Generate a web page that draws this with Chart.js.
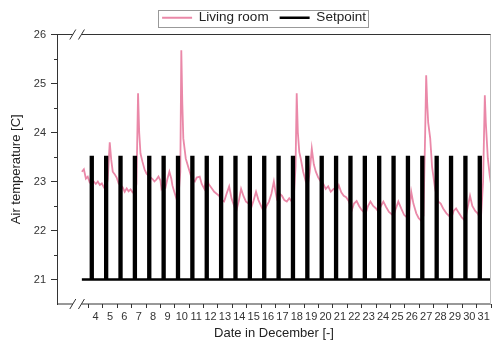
<!DOCTYPE html>
<html>
<head>
<meta charset="utf-8">
<title>Living room temperature</title>
<script src="https://cdn.jsdelivr.net/npm/chart.js@4.4.1/dist/chart.umd.min.js"></script>
<style>
  html, body { margin: 0; padding: 0; background: #fff; }
  #wrap { width: 493px; height: 347px; position: relative; }
</style>
</head>
<body>
<div id="wrap"><canvas id="chart"></canvas></div>
<script>
// Living room air temperature (x = day of December, fractional)
const roomDays = [
    3.53, 3.67, 3.81, 3.94, 4.08, 4.22, 4.36, 4.5, 4.64, 4.78, 4.92, 5.06, 5.2, 5.33, 5.47, 5.57, 5.68, 5.81, 5.95,
    6.09, 6.23, 6.37, 6.51, 6.65, 6.78, 6.92, 7.06, 7.2, 7.33, 7.44, 7.52, 7.61, 7.75, 7.89,
    8.03, 8.17, 8.31, 8.45, 8.58, 8.72, 8.86, 9.0, 9.07, 9.21, 9.35, 9.48, 9.62, 9.76, 9.83, 9.97,
    10.11, 10.25, 10.38, 10.45, 10.52, 10.59, 10.76, 10.97, 11.18, 11.39, 11.52, 11.73, 11.87,
    12.05, 12.2, 12.35, 12.74, 13.08, 13.22, 13.43, 13.6, 13.78, 13.95, 14.12, 14.26, 14.45, 14.61, 14.78, 14.95,
    15.13, 15.3, 15.47, 15.65, 15.82, 15.99, 16.2, 16.38, 16.55, 16.72, 16.89, 17.0, 17.1, 17.28, 17.45, 17.62, 17.79, 17.96,
    18.14, 18.28, 18.4, 18.48, 18.56, 18.66, 18.76, 18.93, 19.11, 19.25, 19.39, 19.53, 19.67, 19.81, 19.98,
    20.15, 20.32, 20.5, 20.67, 20.85, 21.05, 21.26, 21.41, 21.58, 21.75, 21.92,
    22.1, 22.23, 22.3, 22.47, 22.65, 22.82, 23.0, 23.27, 23.44, 23.61, 23.8, 24.0, 24.17, 24.34, 24.51, 24.7, 24.9,
    25.21, 25.38, 25.55, 25.75, 25.95, 26.24, 26.35, 26.45, 26.6, 26.8, 26.97, 27.14, 27.3, 27.42, 27.49, 27.56, 27.63, 27.77, 27.9,
    28.11, 28.32, 28.5, 28.67, 28.9, 29.08, 29.22, 29.4, 29.57, 29.78, 29.98, 30.19, 30.36, 30.54, 30.7, 30.9,
    31.1, 31.29, 31.45, 31.57, 31.64, 31.78, 31.92, 32.0
];
const roomTemps = [
    23.2, 23.25, 23.06, 23.1, 22.98, 22.96, 23.0, 22.95, 23.0, 22.93, 22.96, 22.88, 22.82, 23.05, 23.8, 23.45, 23.2, 23.15, 23.08,
    22.96, 22.92, 22.88, 22.79, 22.86, 22.8, 22.84, 22.78, 22.75, 22.95, 24.8, 24.0, 23.57, 23.4, 23.25,
    23.16, 23.12, 23.08, 23.05, 23.0, 23.04, 23.1, 23.02, 22.85, 22.92, 22.88, 23.05, 23.2, 23.05, 22.92, 22.78,
    22.65, 22.68, 23.2, 25.68, 24.6, 23.88, 23.47, 23.26, 23.06, 23.0, 23.08, 23.1, 22.95,
    22.85, 23.1, 22.95, 22.79, 22.71, 22.62, 22.59, 22.75, 22.9, 22.65, 22.51, 22.38, 22.6, 22.85, 22.7, 22.59,
    22.55, 22.45, 22.6, 22.79, 22.62, 22.51, 22.38, 22.5, 22.59, 22.75, 23.0, 22.8, 22.65, 22.75, 22.71, 22.62, 22.59, 22.66,
    22.59, 22.7, 23.3, 24.8, 24.0, 23.6, 23.47, 23.2, 23.0, 22.92, 23.2, 23.67, 23.35, 23.2, 23.08,
    23.0, 22.96, 22.85, 22.9, 22.79, 22.85, 22.81, 22.92, 22.78, 22.71, 22.68,
    22.6, 22.5, 22.4, 22.55, 22.6, 22.5, 22.42, 22.34, 22.5, 22.59, 22.5, 22.45, 22.38, 22.5, 22.59, 22.48, 22.38,
    22.3, 22.45, 22.59, 22.45, 22.32, 22.24, 22.5, 22.79, 22.55, 22.35, 22.25, 22.2, 22.3, 24.0, 25.17, 24.6, 24.2, 23.88, 23.3,
    22.85, 22.59, 22.55, 22.45, 22.35, 22.3, 22.24, 22.4, 22.45, 22.35, 22.26, 22.2, 22.45, 22.71, 22.5, 22.4,
    22.34, 22.2, 23.0, 24.76, 24.2, 23.47, 23.1, 22.95
];

// Heating setpoint: base level with one short high pulse each day
const setpointStart = 3.53;
const setpointEnd = 32;
const setpointLow = 21;
const setpointHigh = 23.5;
const pulseOn = [
    4.16, 5.16, 6.16, 7.16, 8.16, 9.16, 10.16, 11.16, 12.16, 13.16, 14.16, 15.16, 16.16, 17.16,
    18.16, 19.16, 20.16, 21.16, 22.16, 23.16, 24.16, 25.16, 26.16, 27.16, 28.16, 29.16, 30.16, 31.16
];
const pulseOff = [
    4.28, 5.28, 6.28, 7.28, 8.28, 9.28, 10.28, 11.28, 12.28, 13.28, 14.28, 15.28, 16.28, 17.28,
    18.28, 19.28, 20.28, 21.28, 22.28, 23.28, 24.28, 25.28, 26.28, 27.28, 28.28, 29.28, 30.28, 31.28
];

// Axes
const dayTicks = [4, 5, 6, 7, 8, 9, 10, 11, 12, 13, 14, 15, 16, 17, 18, 19, 20, 21, 22, 23, 24, 25, 26, 27, 28, 29, 30, 31, 32];
const dayLabels = ['4', '5', '6', '7', '8', '9', '10', '11', '12', '13', '14', '15', '16', '17', '18', '19', '20',
    '21', '22', '23', '24', '25', '26', '27', '28', '29', '30', '31'];
const tempTicks = [21, 22, 23, 24, 25, 26];
const tempMinorTicks = [21.5, 22.5, 23.5, 24.5, 25.5];
const xMin = 1.8;
const xMax = 32;
const yMin = 20.5;
const yMax = 26;
const axisBreak = [2.9, 3.5];
const legendNudge = 18;

const roomData = roomDays.map((d, i) => ({ x: d, y: roomTemps[i] }));

const setpointData = [{ x: setpointStart, y: setpointLow }];
pulseOn.forEach((on, i) => {
    setpointData.push({ x: on, y: setpointLow });
    setpointData.push({ x: on, y: setpointHigh });
    setpointData.push({ x: pulseOff[i], y: setpointHigh });
    setpointData.push({ x: pulseOff[i], y: setpointLow });
});
setpointData.push({ x: setpointEnd, y: setpointLow });

Chart.defaults.font.family = '"Liberation Sans", Arial, sans-serif';
Chart.defaults.color = '#333';

// Frame with axis break marks, minor ticks and a border around the legend
const framePlugin = {
    id: 'frame',
    afterLayout(chart) {
        chart.legend.left += legendNudge;
        chart.legend.right += legendNudge;
    },
    afterDraw(chart) {
        const { ctx, chartArea, scales } = chart;
        const { left, right, top, bottom } = chartArea;
        const b0 = scales.x.getPixelForValue(axisBreak[0]);
        const b1 = scales.x.getPixelForValue(axisBreak[1]);
        ctx.save();
        ctx.strokeStyle = '#333';
        ctx.lineWidth = 1;
        [top, bottom].forEach(yy => {
            ctx.beginPath();
            ctx.moveTo(left, yy);
            ctx.lineTo(b0, yy);
            ctx.moveTo(b1, yy);
            ctx.lineTo(right, yy);
            ctx.moveTo(b0 - 3, yy + 5);
            ctx.lineTo(b0 + 3, yy - 5);
            ctx.moveTo(b1 - 3, yy + 5);
            ctx.lineTo(b1 + 3, yy - 5);
            ctx.stroke();
        });

        // minor ticks on the temperature axis
        ctx.beginPath();
        tempMinorTicks.forEach(v => {
            const py = Math.round(scales.y.getPixelForValue(v)) + 0.5;
            ctx.moveTo(left - 3, py);
            ctx.lineTo(left, py);
        });
        ctx.stroke();

        // right edge
        ctx.strokeStyle = '#bbb';
        ctx.beginPath();
        ctx.moveTo(right - 0.5, top);
        ctx.lineTo(right - 0.5, bottom);
        ctx.stroke();

        // legend box
        const boxes = chart.legend.legendHitBoxes;
        if (boxes.length) {
            const l = Math.min(...boxes.map(b => b.left)) - 4;
            const r = Math.max(...boxes.map(b => b.left + b.width)) + 2;
            const t = boxes[0].top - 1.5;
            const h = boxes[0].height + 3;
            ctx.strokeStyle = '#999';
            ctx.strokeRect(Math.round(l) + 0.5, Math.round(t) + 0.5, Math.round(r - l), Math.round(h));
        }
        ctx.restore();
    }
};

new Chart(document.getElementById('chart'), {
    type: 'line',
    data: {
        datasets: [
            {
                label: 'Living room',
                data: roomData,
                borderColor: 'rgb(234, 136, 168)',
                borderWidth: 1.8,
                pointRadius: 0,
                tension: 0,
                order: 1
            },
            {
                label: 'Setpoint',
                data: setpointData,
                borderColor: '#000',
                borderWidth: 2.6,
                borderCapStyle: 'butt',
                borderJoinStyle: 'miter',
                pointRadius: 0,
                tension: 0,
                order: 0
            }
        ]
    },
    options: {
        responsive: true,
        maintainAspectRatio: false,
        animation: false,
        events: [],
        layout: { padding: { top: 0, right: 1, left: 0, bottom: 0 } },
        plugins: {
            tooltip: { enabled: false },
            legend: {
                position: 'top',
                align: 'center',
                labels: {
                    usePointStyle: true,
                    pointStyle: 'line',
                    pointStyleWidth: 30,
                    padding: 11,
                    color: '#222',
                    font: { size: 13.5 },
                    sort: (a, b) => a.datasetIndex - b.datasetIndex
                }
            }
        },
        scales: {
            x: {
                type: 'linear',
                min: xMin,
                max: xMax,
                afterBuildTicks: scale => { scale.ticks = dayTicks.map(v => ({ value: v })); },
                afterFit: scale => { scale.height = 43; },
                border: { display: false },
                grid: {
                    drawOnChartArea: false,
                    drawTicks: true,
                    tickLength: 4,
                    tickColor: '#333'
                },
                ticks: {
                    autoSkip: false,
                    maxRotation: 0,
                    padding: 2,
                    labelOffset: 7,
                    color: '#333',
                    font: { size: 11 },
                    callback: (value, index) => dayLabels[index] || ''
                },
                title: {
                    display: true,
                    text: 'Date in December [-]',
                    color: '#222',
                    font: { size: 13 },
                    padding: { top: 0, bottom: 6 }
                }
            },
            y: {
                type: 'linear',
                min: yMin,
                max: yMax,
                afterBuildTicks: scale => { scale.ticks = tempTicks.map(v => ({ value: v })); },
                afterFit: scale => { scale.width = 57; },
                border: { display: true, color: '#333', width: 1 },
                grid: {
                    drawOnChartArea: false,
                    drawTicks: true,
                    tickLength: 6,
                    tickColor: '#333'
                },
                ticks: {
                    padding: 5,
                    color: '#333',
                    font: { size: 11 }
                },
                title: {
                    display: true,
                    text: 'Air temperature [C]',
                    color: '#222',
                    font: { size: 13 },
                    padding: { top: 9, bottom: 0 }
                }
            }
        }
    },
    plugins: [framePlugin]
});
</script>
</body>
</html>
